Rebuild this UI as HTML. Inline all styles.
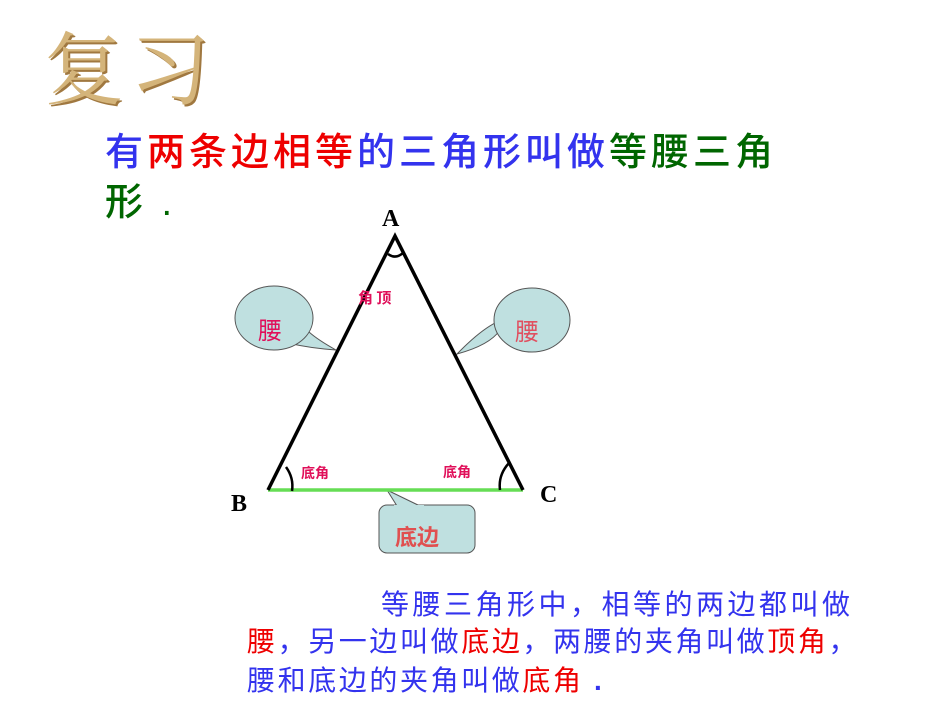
<!DOCTYPE html>
<html><head><meta charset="utf-8"><style>
body{margin:0;width:950px;height:713px;background:#fff;position:relative;overflow:hidden;font-family:"Liberation Sans","Noto Sans CJK SC",sans-serif;}
.t{position:absolute;white-space:nowrap;}
.b{color:#3333ee}.r{color:#ee0000}.g{color:#006600}
</style></head><body>
<div class="t" style="left:44px;top:6px;font-size:80px;font-family:'Noto Serif CJK SC',serif;color:#d4b47a;letter-spacing:6px;text-shadow:2px 2px 0 #a07840;">复习</div>
<div class="t" style="left:105px;top:128px;font-size:38px;letter-spacing:4px;line-height:50px;font-weight:500;">
<span class="b">有</span><span class="r">两条边相等</span><span class="b">的三角形叫做</span><span class="g">等腰三角</span><br><span class="g">形 .</span></div>
<svg width="950" height="713" style="position:absolute;left:0;top:0">
<path d="M236,318 Q265,345 336,350 Q300,330 300,318" fill="#bfe0e0" stroke="#555" stroke-width="1"/>
<ellipse cx="274" cy="318" rx="39" ry="32" fill="#bfe0e0" stroke="#555" stroke-width="1"/>
<path d="M500,330 Q490,345 457,354 Q490,320 510,318" fill="#bfe0e0" stroke="#555" stroke-width="1"/>
<ellipse cx="532" cy="320" rx="38" ry="32" fill="#bfe0e0" stroke="#555" stroke-width="1"/>
<rect x="379" y="505" width="96" height="48" rx="8" fill="#bfe0e0" stroke="#555" stroke-width="1"/>
<path d="M387,490 L397,506 L420,506 Z" fill="#bfe0e0" stroke="#555" stroke-width="1"/>
<rect x="394" y="505" width="30" height="3" fill="#bfe0e0"/>
<line x1="268" y1="490" x2="523" y2="490" stroke="#66dd55" stroke-width="3.5"/>
<polyline points="268,490 395,236 523,490" fill="none" stroke="#000" stroke-width="3.5" stroke-linejoin="miter"/>
<path d="M388,254 Q396,260 404,252" fill="none" stroke="#000" stroke-width="2.5"/>
<path d="M286,467 Q294,478 292,491" fill="none" stroke="#000" stroke-width="2.5"/>
<path d="M509,463 Q498,475 500,490" fill="none" stroke="#000" stroke-width="2.5"/>
<text x="382" y="226" font-family="Liberation Serif" font-weight="bold" font-size="24">A</text>
<text x="231" y="511" font-family="Liberation Serif" font-weight="bold" font-size="24">B</text>
<text x="540" y="502" font-family="Liberation Serif" font-weight="bold" font-size="24">C</text>
<g font-family="Noto Sans CJK SC" font-weight="bold" fill="#e0105a">
<text x="358" y="303" font-size="15">角 顶</text>
<text x="301" y="478" font-size="14">底角</text>
<text x="443" y="477" font-size="14">底角</text>
<text x="258" y="339" font-size="24" font-weight="normal">腰</text>
<text x="515" y="340" font-size="24" font-weight="normal" fill="#e05060">腰</text>
<text x="395" y="545" font-size="22" fill="#e05050">底边</text>
</g>
</svg>
<div class="t b" style="left:381px;top:583px;font-size:28px;letter-spacing:3.5px;">等腰三角形中，相等的两边都叫做</div>
<div class="t b" style="left:247px;top:620px;font-size:28px;letter-spacing:2.6px;"><span class="r">腰</span>，另一边叫做<span class="r">底边</span>，两腰的夹角叫做<span class="r">顶角</span>，</div>
<div class="t b" style="left:247px;top:659px;font-size:28px;letter-spacing:2.6px;">腰和底边的夹角叫做<span class="r">底角</span> <b>.</b></div>
</body></html>
